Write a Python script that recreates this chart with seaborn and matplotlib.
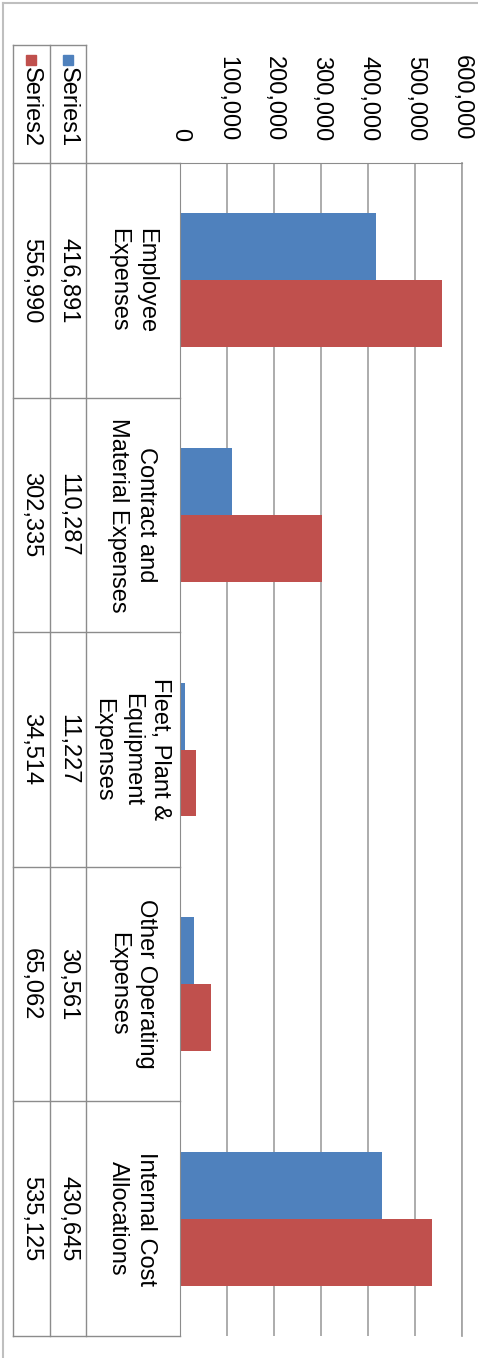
import matplotlib.pyplot as plt
import matplotlib.transforms as mtransforms
from matplotlib.lines import Line2D
from matplotlib.patches import Rectangle
from matplotlib.ticker import FuncFormatter
import seaborn as sns
import pandas as pd

# data
categories = ['Employee\nExpenses', 'Contract and\nMaterial Expenses',
              'Fleet, Plant &\nEquipment\nExpenses', 'Other Operating\nExpenses',
              'Internal Cost\nAllocations']
series1 = [416891, 110287, 11227, 30561, 430645]
series2 = [556990, 302335, 34514, 65062, 535125]
series_names = ['Series1', 'Series2']
colors = ['#4F81BD', '#C0504D']
xticks = [0, 100000, 200000, 300000, 400000, 500000, 600000]

df = pd.DataFrame({
    'category': categories * 2,
    'value': series1 + series2,
    'series': [series_names[0]] * len(categories) + [series_names[1]] * len(categories),
})

plt.rcParams['font.family'] = ['Liberation Sans', 'DejaVu Sans']

W, H = 478, 1358
def fx(px):
    return px / W
def fy(py):
    return 1 - py / H

fs = 17
line_c = '#8C8C8C'
grid_c = '#A6A6A6'

fig = plt.figure(figsize=(W / 100, H / 100), dpi=100)
ax = fig.add_axes([fx(180), fy(1336), fx(462) - fx(180), fy(163) - fy(1336)])

# bars (chart is rotated 90 degrees, so horizontal bars)
sns.barplot(data=df, x='value', y='category', hue='series', palette=colors,
            width=0.571, gap=0, saturation=1, orient='h', errorbar=None,
            linewidth=0, legend=False, ax=ax)

ax.set_xlim(0, 600000)
ax.set_xticks(xticks)
ax.xaxis.set_major_formatter(FuncFormatter(lambda v, p: f'{int(v):,}'))
ax.xaxis.tick_top()
ax.tick_params(axis='x', length=0, pad=16, labelsize=fs, labelrotation=-90)
ax.tick_params(axis='y', left=False, labelleft=False)
ax.set_xlabel('')
ax.set_ylabel('')
ax.grid(axis='x', color=grid_c, lw=1.3)
ax.set_axisbelow(True)
ax.spines['bottom'].set_visible(False)
ax.spines['right'].set_color(grid_c)
ax.spines['right'].set_linewidth(1.3)
ax.spines['top'].set_color(line_c)
ax.spines['left'].set_color(line_c)

# data table on the left
trans = mtransforms.blended_transform_factory(fig.transFigure, ax.transData)
n = len(categories)
for i in range(n + 1):
    ax.plot([fx(13), fx(180)], [i - 0.5, i - 0.5], transform=trans,
            color=line_c, lw=1, clip_on=False)
for i, cat in enumerate(categories):
    ax.text(fx(132), i, cat, transform=trans, rotation=-90, ha='center',
            va='center', multialignment='center', linespacing=1.38,
            fontsize=fs, clip_on=False)
    ax.text(fx(68), i, f'{series1[i]:,}', transform=trans, rotation=-90,
            ha='center', va='center', fontsize=fs, clip_on=False)
    ax.text(fx(31), i, f'{series2[i]:,}', transform=trans, rotation=-90,
            ha='center', va='center', fontsize=fs, clip_on=False)

# table header with legend keys
for x in [13, 50, 86]:
    fig.add_artist(Line2D([fx(x), fx(x)], [fy(45), fy(1336)], color=line_c, lw=1))
fig.add_artist(Line2D([fx(13), fx(86)], [fy(45), fy(45)], color=line_c, lw=1))
for xc, name, c in [(68, series_names[0], colors[0]), (31, series_names[1], colors[1])]:
    fig.add_artist(Rectangle((fx(xc - 5), fy(65)), fx(10), 10 / H, color=c))
    fig.text(fx(xc), fy(67), name, rotation=-90, ha='center', va='top', fontsize=fs)

# chart border
fig.add_artist(Line2D([fx(3), fx(3)], [0, fy(3)], color='#BFBFBF', lw=1.5))
fig.add_artist(Line2D([fx(3), 1], [fy(3), fy(3)], color='#BFBFBF', lw=1.5))

ax.set_ylim(n - 0.5, -0.5)
plt.savefig('out.png', dpi=100)
